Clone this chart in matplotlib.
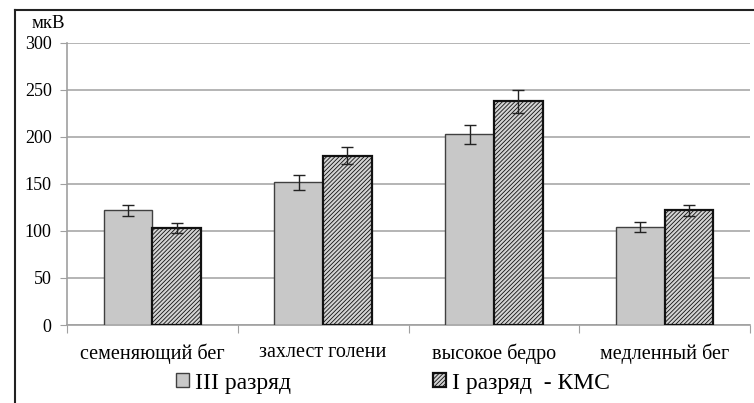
import numpy as np
import matplotlib.pyplot as plt
from matplotlib.lines import Line2D

plt.rcParams['font.family'] = ['Liberation Serif', 'DejaVu Serif']
plt.rcParams['hatch.color'] = '#505050'
plt.rcParams['hatch.linewidth'] = 0.6

categories = ["семеняющий бег", "захлест голени", "высокое бедро", "медленный бег"]
series_names = ["III разряд", "I разряд  - КМС"]
values_iii = [122, 152, 203, 104]
errors_iii = [6, 8, 10, 5.5]
values_kms = [103, 180, 238, 122]
errors_kms = [5, 9, 12, 6]
yticks = [0, 50, 100, 150, 200, 250, 300]

fig = plt.figure(figsize=(7.54, 4.03), dpi=100)
ax = fig.add_axes([67 / 754, 1 - 325 / 403, (750 - 67) / 754, (325 - 43) / 403])

x = np.arange(len(categories))
w = 0.285
ax.bar(x - w / 2, values_iii, w, color='#c8c8c8', edgecolor='#404040', linewidth=1.0,
       yerr=errors_iii, error_kw=dict(ecolor='#222222', elinewidth=1, capsize=4, capthick=1),
       label=series_names[0], zorder=3)
ax.bar(x + w / 2, values_kms, w, color='#d4d4d4', edgecolor='#111111', linewidth=1.6,
       hatch='////////', yerr=errors_kms,
       error_kw=dict(ecolor='#222222', elinewidth=1, capsize=4, capthick=1),
       label=series_names[1], zorder=3)

ax.set_xlim(-0.5, len(categories) - 0.5)
ax.set_ylim(0, 300)
ax.set_yticks(yticks)
ax.yaxis.grid(True, color='#a8a8a8', linewidth=1.2, zorder=0)
ax.set_axisbelow(True)

ax.set_xticks(np.arange(len(categories) + 1) - 0.5)
ax.set_xticklabels([])
ax.set_xticks(x, minor=True)
ax.set_xticklabels(categories, minor=True, fontsize=14.5)
ax.tick_params(axis='x', which='minor', length=0, pad=13)
ax.tick_params(axis='x', which='major', length=6, color='#a0a0a0', direction='out')
ax.tick_params(axis='y', length=5, color='#a0a0a0', labelsize=13, pad=6)

for s in ['top', 'right']:
    ax.spines[s].set_visible(False)
for s in ['left', 'bottom']:
    ax.spines[s].set_color('#a0a0a0')
    ax.spines[s].set_linewidth(1.2)

fig.text(32 / 754, 1 - 23 / 403, "мкВ", fontsize=13.5, va='center', ha='left')

leg = fig.legend(loc='center', bbox_to_anchor=(393 / 754, 1 - 383 / 403), ncol=2,
                 frameon=False, fontsize=17, handlelength=0.55, handleheight=0.55,
                 handletextpad=0.25, columnspacing=6.0, borderpad=0)

# outer border (left and top only visible)
fig.add_artist(Line2D([15 / 754, 15 / 754], [0, 1 - 10 / 403], transform=fig.transFigure,
                      color='#222222', linewidth=1.5))
fig.add_artist(Line2D([15 / 754, 1], [1 - 10 / 403, 1 - 10 / 403], transform=fig.transFigure,
                      color='#222222', linewidth=1.5))

fig.savefig("out.png", dpi=100)
